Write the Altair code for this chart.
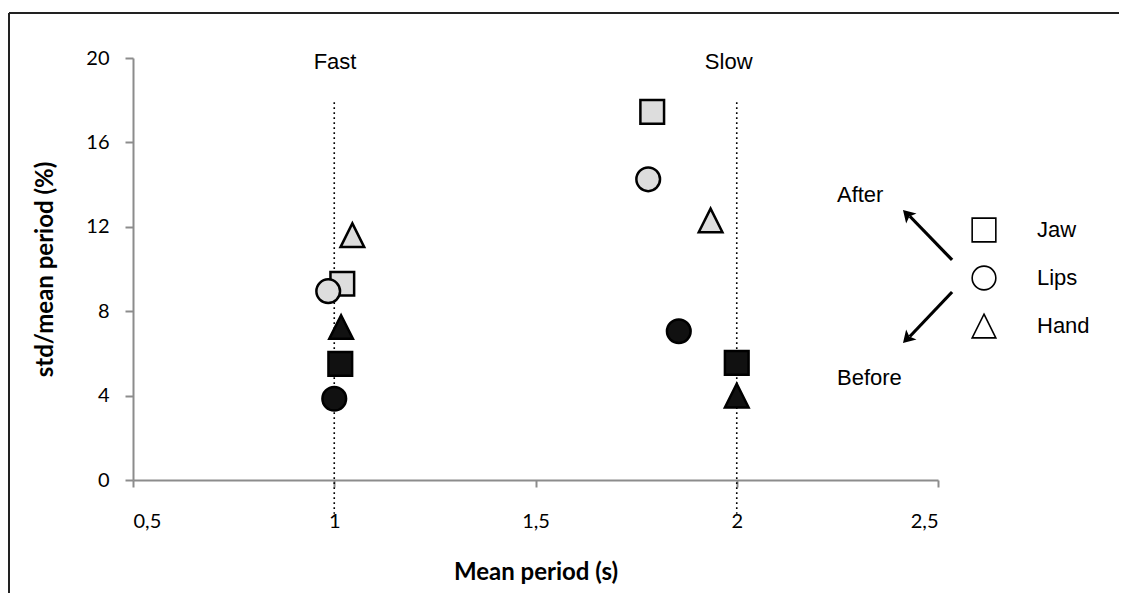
import altair as alt
import pandas as pd

# ---- data ----
markers = ["Jaw", "Lips", "Hand", "Jaw", "Lips", "Hand",
           "Jaw", "Lips", "Hand", "Jaw", "Lips", "Hand"]
phases = ["After", "After", "After", "Before", "Before", "Before",
          "After", "After", "After", "Before", "Before", "Before"]
mean_period = [1.02, 0.985, 1.045, 1.015, 1.0, 1.017,
               1.79, 1.78, 1.935, 2.0, 1.856, 2.0]
std_over_mean = [9.3, 8.95, 11.6, 5.5, 3.85, 7.25,
                 17.45, 14.25, 12.3, 5.55, 7.05, 4.0]

tempo_names = ["Fast", "Slow"]
tempo_period = [1.0, 2.0]

x_ticks = [0.5, 1.0, 1.5, 2.0, 2.5]
y_ticks = [0, 4, 8, 12, 16, 20]

marker_order = ["Jaw", "Lips", "Hand"]
phase_names = ["After", "Before"]

df = pd.DataFrame({"marker": markers, "phase": phases,
                   "period": mean_period, "cv": std_over_mean})

xs = alt.Scale(domain=[0.5, 2.5], nice=False, zero=False)
ys = alt.Scale(domain=[0, 20], nice=False)

TRI = "M0,-1L1,1L-1,1Z"

points = alt.Chart(df).mark_point(filled=True, opacity=1, stroke="black",
                                  strokeWidth=2.5, size=560).encode(
    x=alt.X("period:Q", scale=xs,
            axis=alt.Axis(values=x_ticks, title="Mean period (s)",
                          labelExpr="replace(toString(datum.value), '.', ',')",
                          tickSize=7, labelPadding=24, titlePadding=29)),
    y=alt.Y("cv:Q", scale=ys,
            axis=alt.Axis(values=y_ticks, title="std/mean period (%)",
                          tickSize=8, labelPadding=16, titlePadding=28)),
    shape=alt.Shape("marker:N",
                    scale=alt.Scale(domain=marker_order,
                                    range=["square", "circle", TRI]),
                    legend=alt.Legend(title=None, orient="none",
                                      legendX=838, legendY=159,
                                      padding=0,
                                      symbolFillColor="white",
                                      symbolStrokeColor="black",
                                      symbolStrokeWidth=1.6,
                                      symbolSize=560,
                                      labelFont="Liberation Sans",
                                      labelFontSize=22, labelColor="black",
                                      labelOffset=40, rowPadding=16)),
    fill=alt.Fill("phase:N",
                  scale=alt.Scale(domain=phase_names,
                                  range=["#dddddd", "#111111"]),
                  legend=None),
)

# dotted reference lines at the two tempi
tempo_df = pd.DataFrame({"name": tempo_names, "period": tempo_period,
                         "top": [17.9, 17.9], "bottom": [-1.6, -1.6]})
rules = alt.Chart(tempo_df).mark_rule(color="black", strokeWidth=1.6,
                                      strokeDash=[1.6, 3.4]).encode(
    x=alt.X("period:Q", scale=xs), y=alt.Y("top:Q", scale=ys), y2="bottom:Q")

tempo_text = alt.Chart(pd.DataFrame({"name": tempo_names,
                                     "period": [1.002, 1.98],
                                     "yy": [19.8, 19.8]})).mark_text(
    font="Liberation Sans", fontSize=22, color="black", align="center",
    baseline="middle").encode(
    x=alt.X("period:Q", scale=xs), y=alt.Y("yy:Q", scale=ys), text="name:N")

# arrows After / Before
arrow_df = pd.DataFrame({"name": ["After", "After", "Before", "Before"],
                         "ax": [2.535, 2.43, 2.535, 2.43],
                         "ay": [10.43, 12.5, 8.91, 6.8]})
arrow_lines = alt.Chart(arrow_df).mark_line(color="black", strokeWidth=3.2).encode(
    x=alt.X("ax:Q", scale=xs), y=alt.Y("ay:Q", scale=ys), detail="name:N")

head_df = pd.DataFrame({"name": phase_names, "ax": [2.413, 2.413],
                        "ay": [12.8, 6.49], "ang": [316, 224]})
arrow_heads = alt.Chart(head_df).mark_point(
    shape="M0,0L0.9,1.5L0,1.15L-0.9,1.5Z", filled=True, color="black",
    size=256, opacity=1).encode(
    x=alt.X("ax:Q", scale=xs), y=alt.Y("ay:Q", scale=ys),
    angle=alt.Angle("ang:Q", scale=None))

phase_text = alt.Chart(pd.DataFrame({"name": phase_names,
                                     "tx": [2.249, 2.249],
                                     "ty": [13.5, 4.83]})).mark_text(
    font="Liberation Sans", fontSize=22, color="black", align="left",
    baseline="middle").encode(
    x=alt.X("tx:Q", scale=xs), y=alt.Y("ty:Q", scale=ys), text="name:N")

# outer frame (top and left borders)
frame_top = alt.Chart(alt.Data(values=[{}])).mark_rule(
    color="#222222", strokeWidth=2).encode(
    x=alt.value(-124), x2=alt.value(1000), y=alt.value(-45))
frame_left = alt.Chart(alt.Data(values=[{}])).mark_rule(
    color="#222222", strokeWidth=2).encode(
    x=alt.value(-124), y=alt.value(-45), y2=alt.value(540))

chart = alt.layer(frame_top, frame_left, rules, tempo_text, arrow_lines,
                  arrow_heads, phase_text, points).properties(
    width=805, height=422,
    autosize=alt.AutoSizeParams(type="none"),
    padding={"left": 125, "top": 50, "right": 181, "bottom": 113},
).configure_view(stroke=None).configure_axis(
    grid=False, domainColor="#8c8c8c", tickColor="#8c8c8c", domainWidth=2,
    tickWidth=2, labelFont="Lato", labelFontSize=20, labelColor="black",
    titleFont="Lato", titleFontSize=24, titleFontWeight="bold",
    titleColor="black",
)

chart.save("out.html", embed_options={"renderer": "svg", "actions": False})
